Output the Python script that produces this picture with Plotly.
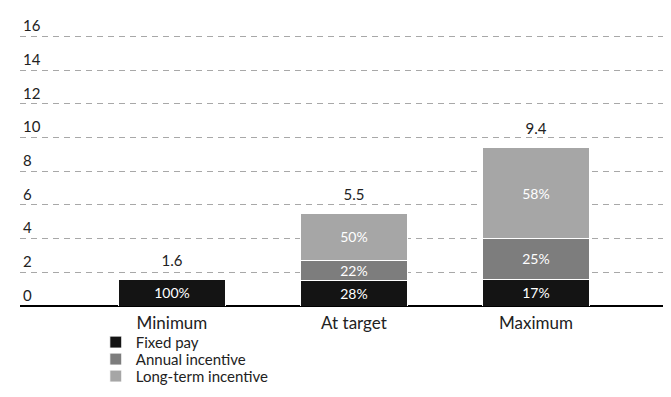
import plotly.graph_objects as go

# data (values in the chart's units)
categories = ["Minimum", "At target", "Maximum"]
fixed_pay = [1.6, 1.5, 1.6]
annual_incentive = [0, 1.2, 2.4]
long_term_incentive = [0, 2.8, 5.4]
totals = [1.6, 5.5, 9.4]
total_labels = ["1.6", "5.5", "9.4"]
fixed_pct = ["100%", "28%", "17%"]
annual_pct = ["", "22%", "25%"]
lti_pct = ["", "50%", "58%"]
y_ticks = [0, 2, 4, 6, 8, 10, 12, 14, 16]

FONT = "Lato, 'Open Sans', sans-serif"
BLACK, MID, LIGHT = "#141414", "#7d7d7d", "#a6a6a6"

series = [
    ("Fixed pay", fixed_pay, fixed_pct, BLACK, "legend"),
    ("Annual incentive", annual_incentive, annual_pct, MID, "legend2"),
    ("Long-term incentive", long_term_incentive, lti_pct, LIGHT, "legend3"),
]

fig = go.Figure()
for name, vals, txt, col, leg in series:
    fig.add_trace(go.Bar(
        x=categories, y=vals, name=name, text=txt, legend=leg,
        textposition="inside", insidetextanchor="middle",
        textfont=dict(color="white", size=14, family=FONT),
        marker=dict(color=col, line=dict(color="white", width=1)),
    ))

# totals above the stacks (invisible marker pushes the text up a bit)
fig.add_trace(go.Scatter(
    x=categories, y=totals, text=total_labels, mode="markers+text",
    marker=dict(size=14, opacity=0), hoverinfo="skip",
    textposition="top center", showlegend=False,
    textfont=dict(color="#222", size=15, family=FONT),
))

# one legend per row so the rows can sit as tight as in the original
_leg = dict(orientation="v", x=0.115, xanchor="left", yanchor="middle",
            font=dict(size=15, color="#222"), bgcolor="rgba(0,0,0,0)")
fig.update_layout(
    width=671, height=397,
    barmode="stack", bargap=0.41,
    plot_bgcolor="white", paper_bgcolor="white",
    margin=dict(l=12, r=0, t=0, b=99),
    font=dict(family=FONT, color="#222", size=14),
    uniformtext=dict(minsize=12, mode="show"),
    legend={**_leg, "y": -0.122},
    legend2={**_leg, "y": -0.179},
    legend3={**_leg, "y": -0.236},
)
fig.update_xaxes(
    range=[-0.835, 2.786], showgrid=False, showline=False, ticks="",
    tickfont=dict(size=17, color="#222"), ticklabelstandoff=5,
)
fig.update_yaxes(
    range=[0, 17.7], tickvals=y_ticks,
    ticklabelposition="inside top",
    tickfont=dict(size=15, color="#222"),
    showgrid=True, gridcolor="#a8a8a8", gridwidth=1, griddash="6px,5px",
    zeroline=True, zerolinecolor="black", zerolinewidth=2,
    showline=False, ticks="",
)

fig.write_html("out.html")
